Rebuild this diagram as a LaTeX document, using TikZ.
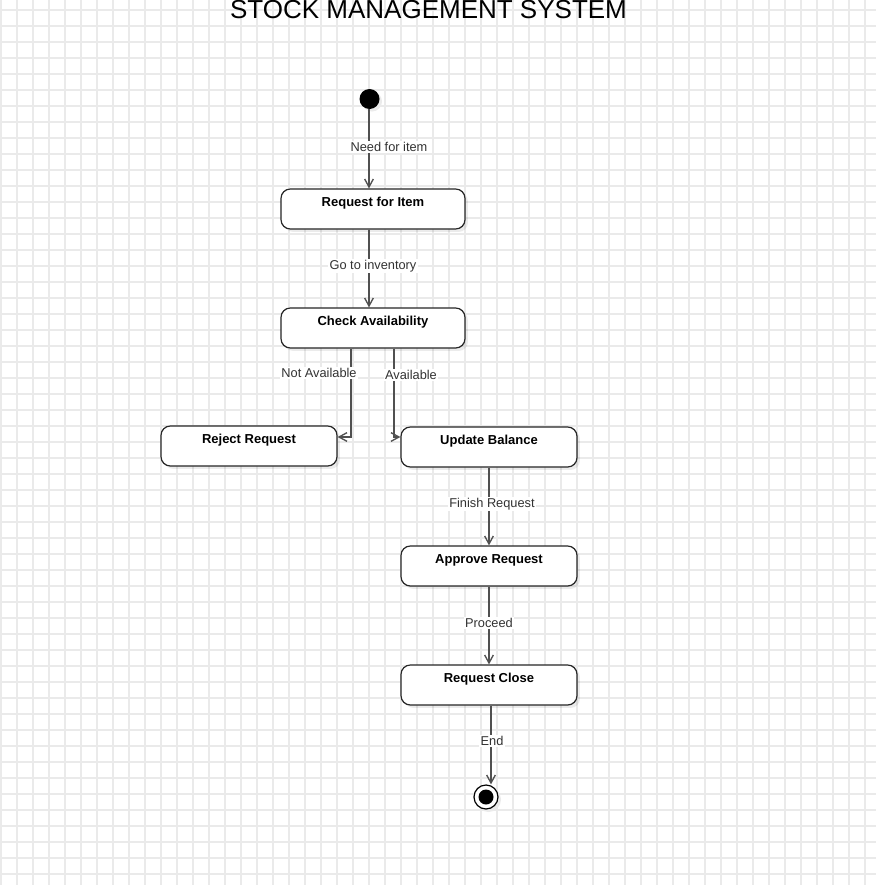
\documentclass[tikz,border=0pt]{standalone}
\usepackage{fontspec}
\setmainfont{Liberation Sans}
\usetikzlibrary{arrows.meta,shadows}
\definecolor{gridc}{RGB}{234,234,234}
\definecolor{edgec}{RGB}{80,80,80}
\definecolor{labc}{RGB}{50,50,50}
\begin{document}
\begin{tikzpicture}[x=0.75pt,y=-0.75pt,
  actbox/.style={draw=black!85,line width=0.9pt,rounded corners=7pt,fill=white,
    inner sep=0pt,text height=13.1pt,text depth=16.9pt,
    font=\bfseries\fontsize{9.75}{12}\selectfont,
    drop shadow={shadow xshift=2.2pt,shadow yshift=-2.2pt,fill=black,opacity=0.08}},
  edge/.style={draw=edgec,line width=1pt,-{Straight Barb[length=6pt,width=6.5pt,line width=1pt]}},
  elabel/.style={fill=white,inner sep=1pt,text=labc,font=\fontsize{9.6}{11}\selectfont}]
\useasboundingbox (0,0) rectangle (876,885);
\fill[white] (0,0) rectangle (876,885);
% grid
\foreach \i in {0,...,54} {\draw[gridc,line width=1.2pt] (1+16*\i,0) -- (1+16*\i,885);}
\foreach \j in {0,...,54} {\draw[gridc,line width=1.2pt] (0,10+16*\j) -- (876,10+16*\j);}
% title
\node[anchor=base,inner sep=0pt,font=\fontsize{19.5}{22}\selectfont] (title) at (428.5,18.5) {STOCK MANAGEMENT SYSTEM};
% start / end
\fill[black!8] (372,101.5) circle (10);
\node[circle,fill=black,minimum size=15pt,inner sep=0pt] (start) at (369.5,99) {};
\fill[black!8] (488.5,799.5) circle (12.5);
\node[circle,draw=black,fill=white,line width=0.9pt,minimum size=18pt,inner sep=0pt] (end) at (486,797) {};
\fill[black] (end) circle (7.5);
% activities
\node[actbox,minimum width=138pt,minimum height=30pt] (req) at (373,209) {Request for Item};
\node[actbox,minimum width=138pt,minimum height=30pt] (check) at (373,328) {Check Availability};
\node[actbox,minimum width=132pt,minimum height=30pt] (reject) at (249,446) {Reject Request};
\node[actbox,minimum width=132pt,minimum height=30pt] (update) at (489,447) {Update Balance};
\node[actbox,minimum width=132pt,minimum height=30pt] (approve) at (489,566) {Approve Request};
\node[actbox,minimum width=132pt,minimum height=30pt] (close) at (489,685) {Request Close};
% helper coordinates
\coordinate (xa) at (369,0);
\coordinate (xn) at (351,0);
\coordinate (xv) at (394,0);
\coordinate (xb) at (489,0);
\coordinate (xe) at (491,0);
\coordinate (yb) at (0,437);
% edges
\draw[edge] (start.south -| xa) -- (req.north -| xa);
\node[elabel] (l1) at (389,147) {Need for item};
\draw[edge] (req.south -| xa) -- (check.north -| xa);
\node[elabel] (l2) at (373,266) {Go to inventory};
\draw[edge] (check.south -| xn) |- (reject.east |- yb);
\node[elabel] (l3) at (319,373) {Not Available};
\draw[edge] (check.south -| xv) |- (update.west |- yb);
\node[elabel] (l4) at (411,375) {Available};
\draw[edge] (update.south -| xb) -- (approve.north -| xb);
\node[elabel] (l5) at (492,504) {Finish Request};
\draw[edge] (approve.south -| xb) -- (close.north -| xb);
\node[elabel] (l6) at (489,623) {Proceed};
\draw[edge] (close.south -| xe) -- (xe |- end.north);
\node[elabel] (l7) at (492,741) {End};
\end{tikzpicture}
\end{document}
